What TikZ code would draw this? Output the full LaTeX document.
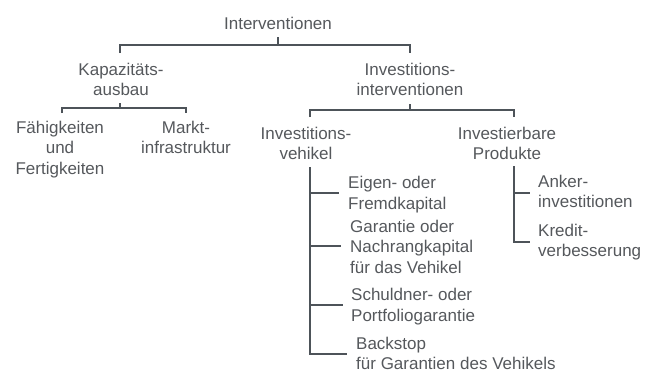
\documentclass[tikz,border=0pt]{standalone}
\usepackage{fontspec}
\setmainfont{Liberation Sans}
\definecolor{txt}{HTML}{55585C}
\definecolor{ln}{HTML}{4D5359}
\begin{document}
\begin{tikzpicture}[x=1pt,y=-1pt,
  lbl/.style={font=\fontsize{17}{20.5}\selectfont, text=txt, inner sep=0pt, align=center, anchor=north},
  lbll/.style={lbl, align=left, anchor=north west},
  conn/.style={draw=ln, line width=1.5pt}]
\useasboundingbox (0,0) rectangle (657,372);
% nodes
\node[lbl] (root) at (278,16.5) {Interventionen};
\node[lbl] (kap) at (121,62.5) {Kapazitäts-\\ausbau};
\node[lbl] (inv) at (410,62.5) {Investitions-\\interventionen};
\node[lbl] (fah) at (60,120.5) {Fähigkeiten\\und\\Fertigkeiten};
\node[lbl] (mkt) at (186,120.5) {Markt-\\infrastruktur};
\node[lbl] (veh) at (306,126.5) {Investitions-\\vehikel};
\node[lbl] (prod) at (507,126.5) {Investierbare\\Produkte};
\node[lbll] (eig) at (348,176) {Eigen- oder\\Fremdkapital};
\node[lbll] (gar) at (350,219.5) {Garantie oder\\Nachrangkapital\\für das Vehikel};
\node[lbll] (sch) at (351,288) {Schuldner- oder\\Portfoliogarantie};
\node[lbll] (bak) at (356,336.5) {Backstop\\für Garantien des Vehikels};
\node[lbll] (ank) at (538,174.5) {Anker-\\investitionen};
\node[lbll] (kre) at (538,223.5) {Kredit-\\verbesserung};
% junction coordinates
\coordinate (r1) at (278,37);   \coordinate (r2) at (278,45);
\coordinate (kapT) at (120,53); \coordinate (invT) at (410,53);
\coordinate (k1) at (120,103);  \coordinate (k2) at (120,108);
\coordinate (fahT) at (62,113); \coordinate (mktT) at (186,113);
\coordinate (i1) at (410,104);  \coordinate (i2) at (410,110);
\coordinate (vehT) at (310,117); \coordinate (prodT) at (514,117);
\coordinate (vtop) at (310,167); \coordinate (ptop) at (514,166);
% connectors
\draw[conn] (r1) -- (r2);
\draw[conn] (kapT) |- (r2) -| (invT);
\draw[conn] (k1) -- (k2);
\draw[conn] (fahT) |- (k2) -| (mktT);
\draw[conn] (i1) -- (i2);
\draw[conn] (vehT) |- (i2) -| (prodT);
\draw[conn] (vtop) |- ([xshift=-9pt]bak.west |- 0,354);
\draw[conn] (vtop |- 0,193) -- ([xshift=-9pt]eig.west |- 0,193);
\draw[conn] (vtop |- 0,246) -- ([xshift=-9pt]gar.west |- 0,246);
\draw[conn] (vtop |- 0,305) -- ([xshift=-8pt]sch.west |- 0,305);
\draw[conn] (ptop) |- ([xshift=-8pt]kre.west |- 0,242);
\draw[conn] (ptop |- 0,193) -- ([xshift=-8pt]ank.west |- 0,193);
\end{tikzpicture}
\end{document}
